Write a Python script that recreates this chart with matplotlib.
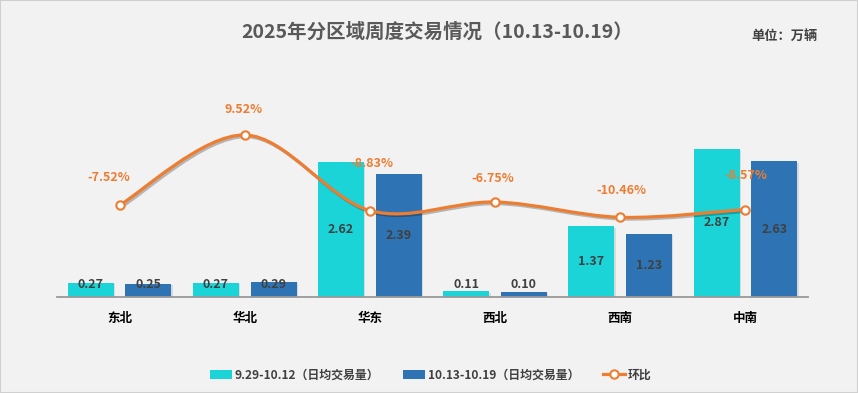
import numpy as np
import matplotlib.pyplot as plt
import matplotlib.patheffects as pe
from matplotlib.path import Path
from matplotlib.patches import PathPatch, Rectangle, Patch
from matplotlib.lines import Line2D

plt.rcParams['font.family'] = ['Noto Sans CJK SC', 'DejaVu Sans']

# data
regions = ['东北', '华北', '华东', '西北', '西南', '中南']
prev_week = [0.27, 0.27, 2.62, 0.11, 1.37, 2.87]
this_week = [0.25, 0.29, 2.39, 0.10, 1.23, 2.63]
mom_pct = [-7.52, 9.52, -8.83, -6.75, -10.46, -8.57]
legend_labels = ['9.29-10.12（日均交易量）', '10.13-10.19（日均交易量）', '环比']
title = '2025年分区域周度交易情况（10.13-10.19）'
unit = '单位：万辆'

# per-label nudges (pixels) for the percent labels, as placed in the original
pct_offsets = [(-11, 28), (-1, 25), (2, 47), (-2, 24), (1, 27), (0, 34)]

cyan = '#1ad4d8'
blue = '#2e74b5'
orange = '#ed7d31'
txt = '#404040'

W, H = 858, 393
fig = plt.figure(figsize=(W / 100, H / 100), dpi=100, facecolor='#f2f2f2')
ax = fig.add_axes([57 / W, (H - 297) / H, (808 - 57) / W, (297 - 100) / H])
ax.set_facecolor('none')
ax2 = ax.twinx()

x = np.arange(len(regions))
shadow = [pe.SimplePatchShadow(offset=(1, -1), alpha=0.12), pe.Normal()]
b1 = ax.bar(x - 0.23, prev_week, 0.367, color=cyan, path_effects=shadow)
b2 = ax.bar(x + 0.23, this_week, 0.367, color=blue, path_effects=shadow)

for bars, vals in ((b1, prev_week), (b2, this_week)):
    for r, v in zip(bars, vals):
        ax.text(r.get_x() + r.get_width() / 2, max(v / 2, 0.25), f'{v:.2f}',
                ha='center', va='center', fontsize=9, fontweight='bold', color=txt)

ax.set_xlim(-0.5, len(regions) - 0.5)
ax.set_ylim(0, 197 / 51.6)
ax2.set_ylim((174.2 - 297) / 4.12, (174.2 - 100) / 4.12)

ax.set_xticks(x)
ax.set_xticklabels(regions, fontsize=9, fontweight='bold', color='black')
ax.tick_params(axis='x', length=0, pad=11)
ax.set_yticks([])
ax2.set_yticks([])
for a in (ax, ax2):
    for s in a.spines.values():
        s.set_visible(False)
ax.spines['bottom'].set_visible(True)
ax.spines['bottom'].set_color('#999999')
ax.spines['bottom'].set_linewidth(1.3)

# smoothed line (Catmull-Rom style bezier through the points)
pts = np.column_stack([x, mom_pct]).astype(float)
n = len(pts)
verts = [pts[0]]
codes = [Path.MOVETO]
for i in range(n - 1):
    p0 = pts[i - 1] if i > 0 else pts[i]
    p1, p2 = pts[i], pts[i + 1]
    p3 = pts[i + 2] if i + 2 < n else pts[i + 1]
    verts += [p1 + (p2 - p0) / 6, p2 - (p3 - p1) / 6, p2]
    codes += [Path.CURVE4] * 3
curve = PathPatch(Path(verts, codes), fill=False, edgecolor=orange, lw=2.3,
                  path_effects=[pe.SimpleLineShadow(offset=(1.2, -1.2), alpha=0.25),
                                pe.Normal()])
ax2.add_patch(curve)
ax2.plot(x, mom_pct, 'o', mfc='white', mec=orange, ms=6, mew=1.5, zorder=3)

for xi, v, off in zip(x, mom_pct, pct_offsets):
    ax2.annotate(f'{v:.2f}%', (xi, v), xytext=off, textcoords='offset pixels',
                 ha='center', va='center', fontsize=9, fontweight='bold',
                 color=orange, zorder=4)

fig.text(437.5 / W, 1 - 31.7 / H, title, ha='center', va='center',
         fontsize=14, fontweight='bold', color='#595959')
fig.text(785 / W, 1 - 36 / H, unit, ha='center', va='center',
         fontsize=9.5, fontweight='bold', color=txt)

handles = [Patch(facecolor=cyan), Patch(facecolor=blue),
           Line2D([], [], color=orange, lw=2.3, marker='o', mfc='white',
                  mec=orange, ms=6, mew=1.5)]
fig.legend(handles, legend_labels, loc='center', bbox_to_anchor=(431 / W, 1 - 375 / H),
           ncol=3, frameon=False, prop={'size': 8.6, 'weight': 'bold'},
           labelcolor=txt, handlelength=1.8, handletextpad=0.25, columnspacing=2.0)

fig.add_artist(Rectangle((0, 0), 1, 1, transform=fig.transFigure, fill=False,
                         edgecolor='#d0d0d0', lw=1.5))

fig.savefig('out.png', dpi=100, facecolor=fig.get_facecolor())
